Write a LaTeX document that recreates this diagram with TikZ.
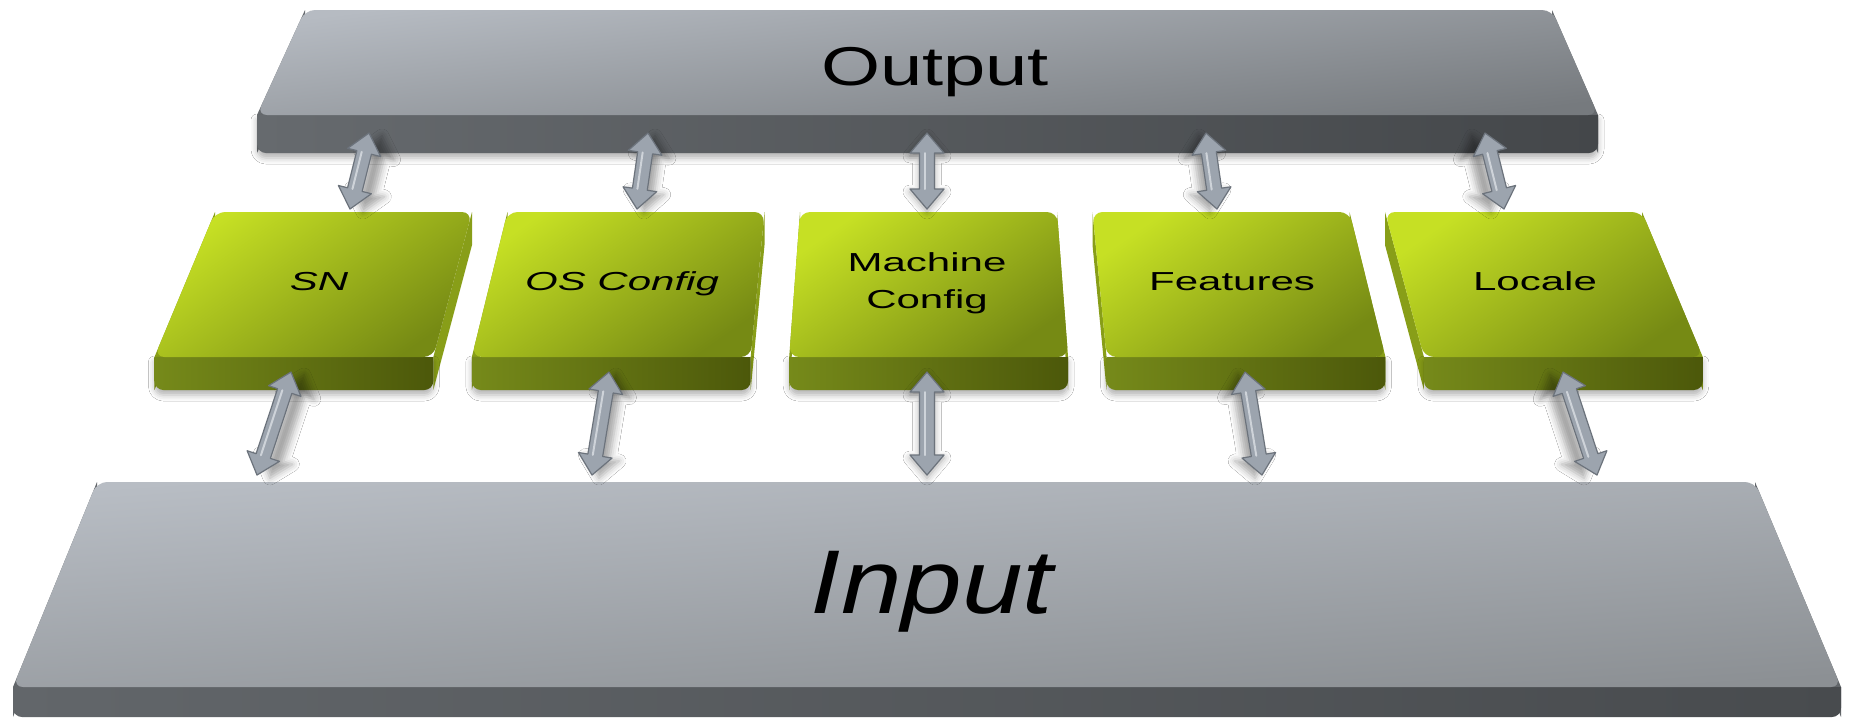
\documentclass[tikz,border=0pt]{standalone}
\usepackage{fontspec}
\setmainfont{Liberation Sans}
\usetikzlibrary{calc,shadows.blur}

% green module blocks
\definecolor{gTopA}{RGB}{198,224,36}
\definecolor{gTopB}{RGB}{118,138,20}
\definecolor{gFrontA}{RGB}{118,138,26}
\definecolor{gFrontB}{RGB}{76,88,10}
\definecolor{gSide}{RGB}{136,158,24}
% output slab
\definecolor{oTopA}{RGB}{182,187,194}
\definecolor{oTopB}{RGB}{118,122,126}
\definecolor{oFrontA}{RGB}{102,106,110}
\definecolor{oFrontB}{RGB}{68,71,74}
% input slab
\definecolor{iTopA}{RGB}{184,189,196}
\definecolor{iTopB}{RGB}{140,144,148}
\definecolor{iFrontA}{RGB}{98,102,106}
\definecolor{iFrontB}{RGB}{72,75,78}
% arrows
\definecolor{arrFill}{RGB}{156,164,174}
\definecolor{arrEdge}{RGB}{108,115,124}
\definecolor{arrLight}{RGB}{206,211,217}

\newcommand\boxfont{\fontsize{11.95pt}{17pt}\selectfont}
\newcommand\outfont{\fontsize{21.6pt}{26pt}\selectfont}
\newcommand\infont{\fontsize{31pt}{36pt}\selectfont}

% a slab seen from above: far edge (#2,#3 at y=#4), near edge (#5,#6 at y=#7), thickness #8
\newcommand\slab[8]{%
  \pgfmathsetmacro\slabnb{#7+#8}%
  \pgfmathsetmacro\slabfb{#4+#8}%
  \path[#1 side] (#2,#4) -- (#5,#7) -- (#5,\slabnb) -- (#2,\slabfb) -- cycle;
  \path[#1 side] (#3,#4) -- (#6,#7) -- (#6,\slabnb) -- (#3,\slabfb) -- cycle;
  \path[#1 front] (#5,#7) -- (#6,#7) [rounded corners=0.09cm] -- (#6,\slabnb)
     -- (#5,\slabnb) [sharp corners] -- cycle;
  \path[#1 top, rounded corners=0.1cm] (#2,#4) -- (#3,#4) -- (#6,#7) -- (#5,#7) -- cycle;
}

% green block number #1 (0..4) of the middle row
\newcommand\gblock[1]{%
  \pgfmathsetmacro\gl{215+292.5*#1}%
  \pgfmathsetmacro\gr{\gl+257}%
  \pgfmathsetmacro\gbl{927+(\gl-927)*1.085}%
  \pgfmathsetmacro\gbr{927+(\gr-927)*1.085}%
  \slab{green}{\gl}{\gr}{212}{\gbl}{\gbr}{357}{33}%
}

% double-headed arrow between two named points, #3 extra options
\newcommand\dblarrow[3]{%
  \coordinate (ah) at ($(#1)!0.2cm!(#2)$);
  \coordinate (bh) at ($(#2)!0.2cm!(#1)$);
  \path[arrowbody,#3] (#1) -- ($(ah)!0.17cm!90:(#1)$) -- ($(ah)!0.075cm!90:(#1)$)
     -- ($(bh)!0.075cm!-90:(#2)$) -- ($(bh)!0.17cm!-90:(#2)$) -- (#2)
     -- ($(bh)!0.17cm!90:(#2)$) -- ($(bh)!0.075cm!90:(#2)$)
     -- ($(ah)!0.075cm!-90:(#1)$) -- ($(ah)!0.17cm!-90:(#1)$) -- cycle;
  \draw[arrowlight] ($(ah)!0.025cm!90:(#1)$) -- ($(bh)!0.025cm!-90:(#2)$);
}

\begin{document}
\begin{tikzpicture}[x=0.01cm,y=-0.01cm,
  green top/.style={top color=gTopA, bottom color=gTopB, shading angle=35},
  green front/.style={left color=gFrontA, right color=gFrontB,
    blur shadow={shadow xshift=0cm, shadow yshift=-0.05cm, shadow opacity=30, shadow blur radius=0.06cm}},
  green side/.style={fill=gSide},
  output top/.style={top color=oTopA, bottom color=oTopB, shading angle=7},
  output front/.style={left color=oFrontA, right color=oFrontB,
    blur shadow={shadow xshift=0cm, shadow yshift=-0.05cm, shadow opacity=30, shadow blur radius=0.06cm}},
  output side/.style={fill=oFrontA},
  input top/.style={top color=iTopA, bottom color=iTopB, shading angle=4},
  input front/.style={left color=iFrontA, right color=iFrontB},
  input side/.style={fill=iFrontA},
  arrowbody/.style={fill=arrFill, draw=arrEdge, line width=0.012cm, line join=round},
  arrowlight/.style={draw=arrLight, line width=0.02cm, line cap=round},
  ashadow/.style={blur shadow={shadow xshift=#1, shadow yshift=-0.03cm, shadow opacity=35, shadow blur radius=0.07cm}},
  boxlabel/.style={font=\boxfont, text=black, inner sep=0pt, align=center},
]
\useasboundingbox[fill=white] (0,0) rectangle (1849,717);

% top and bottom slabs
\slab{output}{305}{1552}{10}{257}{1598}{115}{38}
\slab{input}{97}{1755}{482}{13}{1841}{687}{30}

% middle row of modules
\foreach \k in {0,...,4} {\gblock{\k}}

% labels
\node[inner sep=0pt, font=\outfont, anchor=base] (out) at (935,85) {\scalebox{1}[0.72]{Output}};
\node[inner sep=0pt, font=\infont, anchor=base] (in) at (932,613) {\scalebox{1}[0.83]{\itshape Input}};
\node[boxlabel, anchor=base] (sn) at (319,290) {\scalebox{1}[0.62]{\itshape SN}};
\node[boxlabel, anchor=base] (osc) at (622,290) {\scalebox{1}[0.62]{\itshape OS Config}};
\node[boxlabel] (mach) at (927,283) {\scalebox{1}[0.62]{\begin{tabular}{@{}c@{}}Machine\\Config\end{tabular}}};
\node[boxlabel, anchor=base] (feat) at (1232,290) {\scalebox{1}[0.62]{Features}};
\node[boxlabel, anchor=base] (loc) at (1535,290) {\scalebox{1}[0.62]{Locale}};

% arrow end points on the slabs and blocks
\coordinate (out-1) at (369,133);  \coordinate (sn-top) at (350,209);
\coordinate (out-2) at (648,133);  \coordinate (osc-top) at (637,209);
\coordinate (out-3) at (927,133);  \coordinate (mach-top) at (927,209);
\coordinate (out-4) at (1206,133); \coordinate (feat-top) at (1217,209);
\coordinate (out-5) at (1485,133); \coordinate (loc-top) at (1504,209);
\coordinate (sn-bot) at (291,372);   \coordinate (in-1) at (257,475);
\coordinate (osc-bot) at (609,372);  \coordinate (in-2) at (592,475);
\coordinate (mach-bot) at (927,372); \coordinate (in-3) at (927,475);
\coordinate (feat-bot) at (1245,372);\coordinate (in-4) at (1262,475);
\coordinate (loc-bot) at (1563,372); \coordinate (in-5) at (1597,475);

% connectors
\dblarrow{out-1}{sn-top}{ashadow=0.13cm}
\dblarrow{out-2}{osc-top}{ashadow=0.07cm}
\dblarrow{out-3}{mach-top}{ashadow=0cm}
\dblarrow{out-4}{feat-top}{ashadow=-0.07cm}
\dblarrow{out-5}{loc-top}{ashadow=-0.13cm}
\dblarrow{sn-bot}{in-1}{ashadow=0.13cm}
\dblarrow{osc-bot}{in-2}{ashadow=0.07cm}
\dblarrow{mach-bot}{in-3}{ashadow=0cm}
\dblarrow{feat-bot}{in-4}{ashadow=-0.07cm}
\dblarrow{loc-bot}{in-5}{ashadow=-0.13cm}
\end{tikzpicture}
\end{document}
